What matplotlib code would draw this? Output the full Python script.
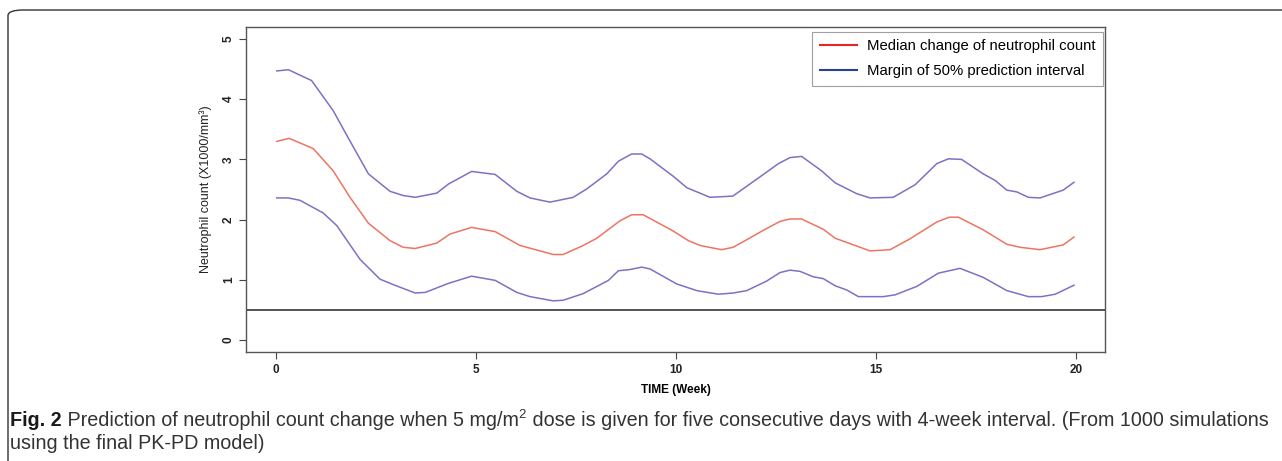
import numpy as np
import matplotlib
matplotlib.use("Agg")
import matplotlib.pyplot as plt
from matplotlib.patches import FancyBboxPatch

plt.rcParams['font.family'] = ['Liberation Sans', 'DejaVu Sans']

# upper margin of 50% prediction interval
up_week = [0.02, 0.31, 0.89, 1.43, 1.77, 2.31, 2.85, 3.18, 3.48, 4.02, 4.31, 4.89, 5.48,
           6.02, 6.35, 6.85, 7.43, 7.77, 8.27, 8.56, 8.89, 9.14, 9.35, 9.93, 10.27, 10.85,
           11.42, 12.1, 12.56, 12.85, 13.14, 13.64, 13.98, 14.52, 14.85, 15.43, 15.98, 16.52,
           16.81, 17.14, 17.68, 17.98, 18.27, 18.52, 18.81, 19.1, 19.68, 19.95]
up_val = [4.47, 4.49, 4.31, 3.81, 3.40, 2.76, 2.47, 2.40, 2.37, 2.44, 2.59, 2.80, 2.75,
          2.47, 2.36, 2.29, 2.37, 2.51, 2.76, 2.97, 3.09, 3.09, 3.01, 2.72, 2.53, 2.37,
          2.39, 2.71, 2.93, 3.03, 3.05, 2.81, 2.61, 2.43, 2.36, 2.37, 2.58, 2.93,
          3.01, 3.00, 2.76, 2.65, 2.49, 2.46, 2.37, 2.36, 2.49, 2.62]

# median
med_week = [0.02, 0.33, 0.93, 1.43, 1.85, 2.31, 2.85, 3.18, 3.48, 4.02, 4.35, 4.89, 5.48,
            6.1, 6.6, 6.93, 7.18, 7.68, 8.02, 8.6, 8.89, 9.18, 9.93, 10.31, 10.6, 11.14,
            11.43, 12.18, 12.6, 12.85, 13.14, 13.68, 13.98, 14.52, 14.85, 15.35, 15.85,
            16.52, 16.83, 17.06, 17.68, 18.27, 18.6, 19.1, 19.68, 19.95]
med_val = [3.30, 3.35, 3.18, 2.81, 2.37, 1.94, 1.65, 1.54, 1.52, 1.61, 1.76, 1.87, 1.80,
           1.57, 1.48, 1.42, 1.42, 1.57, 1.69, 1.98, 2.08, 2.08, 1.81, 1.65, 1.57, 1.50,
           1.54, 1.82, 1.97, 2.01, 2.01, 1.84, 1.69, 1.56, 1.48, 1.50, 1.68,
           1.96, 2.04, 2.04, 1.83, 1.59, 1.54, 1.50, 1.58, 1.71]

# lower margin
lo_week = [0.02, 0.31, 0.6, 1.18, 1.52, 2.1, 2.6, 2.93, 3.48, 3.73, 4.31, 4.89, 5.48,
           6.02, 6.35, 6.93, 7.18, 7.68, 8.31, 8.56, 8.85, 9.14, 9.35, 10.02, 10.52, 11.06,
           11.43, 11.77, 12.27, 12.6, 12.85, 13.1, 13.43, 13.68, 13.98, 14.27, 14.56, 14.85,
           15.18, 15.48, 16.02, 16.56, 17.1, 17.68, 18.27, 18.81, 19.14, 19.48, 19.95]
lo_val = [2.36, 2.36, 2.32, 2.11, 1.90, 1.34, 1.01, 0.92, 0.78, 0.79, 0.94, 1.06, 0.99,
          0.79, 0.72, 0.65, 0.66, 0.77, 0.99, 1.15, 1.17, 1.21, 1.18, 0.93, 0.82, 0.76,
          0.78, 0.82, 0.98, 1.12, 1.16, 1.14, 1.05, 1.02, 0.90, 0.83, 0.72, 0.72,
          0.72, 0.75, 0.89, 1.11, 1.19, 1.04, 0.82, 0.72, 0.72, 0.76, 0.91]

threshold = 0.5
x_ticks = [0, 5, 10, 15, 20]
y_ticks = [0, 1, 2, 3, 4, 5]

fig = plt.figure(figsize=(12.82, 4.61), dpi=100)

# rounded frame of the figure panel (runs off the right and bottom edges)
frame = FancyBboxPatch((8 / 1282, -0.2), 1.2, 1.2 - 10 / 461,
                       boxstyle="round,pad=0,rounding_size=0.012",
                       transform=fig.transFigure, fill=False,
                       edgecolor='#333333', linewidth=1.0)
fig.patches.append(frame)

ax = fig.add_axes([246 / 1282, 109 / 461, 859 / 1282, 325 / 461])

ax.plot(up_week, up_val, color='#7b72c4', lw=1.1)
ax.plot(med_week, med_val, color='#ee7462', lw=1.1)
ax.plot(lo_week, lo_val, color='#7b72c4', lw=1.1)
ax.axhline(threshold, color='#444444', lw=1.3)

ax.set_xlim(-0.75, 20.725)
ax.set_ylim(-0.2, 5.2)
ax.set_xticks(x_ticks)
ax.set_yticks(y_ticks)
ax.tick_params(axis='both', direction='out', length=5, width=0.8, colors='#444444',
               labelcolor='#222222', labelsize=8.5)
ax.tick_params(axis='y', labelrotation=90, pad=3)
for lab in ax.get_xticklabels() + ax.get_yticklabels():
    lab.set_fontweight('bold')
for lab in ax.get_yticklabels():
    lab.set_va('center')
for s in ax.spines.values():
    s.set_color('#555555')
    s.set_linewidth(1.0)

ax.set_xlabel('TIME (Week)', fontsize=8.5, fontweight='bold', labelpad=6)
ax.set_ylabel('Neutrophil count (X1000/mm³)', fontsize=9, labelpad=8, color='#222222')

h1, = ax.plot([], [], color='#e8242a', lw=1.5)
h2, = ax.plot([], [], color='#2b3f95', lw=1.5)
leg = ax.legend([h1, h2], ['Median change of neutrophil count', 'Margin of 50% prediction interval'],
                loc='upper right', bbox_to_anchor=(0.998, 0.985), fontsize=10.7,
                frameon=True, fancybox=False, edgecolor='#888888', handlelength=2.5,
                borderpad=0.5, labelspacing=0.75, handletextpad=0.7, borderaxespad=0)
leg.get_frame().set_linewidth(0.8)

# caption, pieced together so the superscript sits right
cap_size = 14.2
t1 = fig.text(10 / 1282, 1 - 426 / 461, 'Fig. 2', fontsize=cap_size, fontweight='bold',
              color='#1a1a1a')
t2 = ax.annotate(' Prediction of neutrophil count change when 5 mg/m', xy=(1, 0),
                 xycoords=t1, va='bottom', fontsize=cap_size, color='#333333',
                 annotation_clip=False)
t3 = ax.annotate('2', xy=(1, 0.62), xycoords=t2, fontsize=9.5,
                 color='#333333', annotation_clip=False)
ax.annotate(' dose is given for five consecutive days with 4-week interval. (From 1000 simulations',
            xy=(1, 0), xycoords=t2, xytext=(6, 0), textcoords='offset points', va='bottom',
            fontsize=cap_size, color='#333333', annotation_clip=False)
fig.text(10 / 1282, 1 - 449 / 461, 'using the final PK-PD model)', fontsize=cap_size,
         color='#333333')

fig.savefig('out.png', dpi=100)
